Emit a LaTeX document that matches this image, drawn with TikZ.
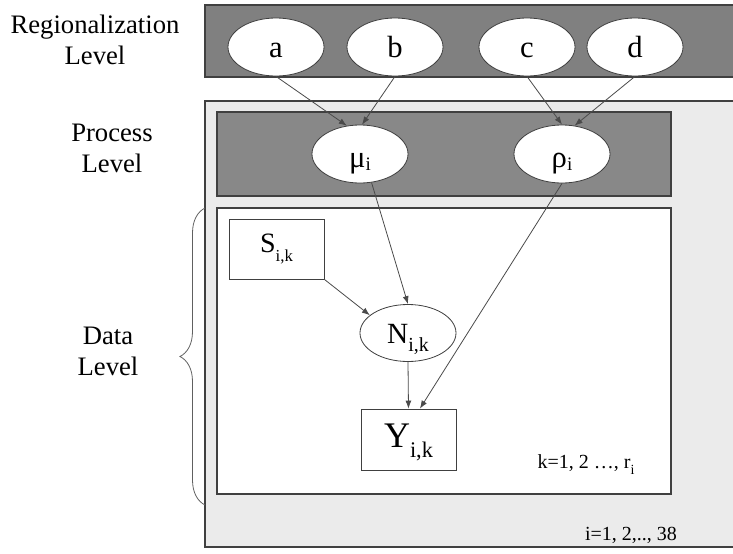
\documentclass[tikz,border=0pt]{standalone}
\usepackage{fontspec}
\setmainfont{Liberation Serif}
\usepackage{xcolor}
\definecolor{cLine}{HTML}{404040}
\definecolor{cArrow}{HTML}{4A4A4A}
\definecolor{cBand}{HTML}{808080}
\definecolor{cProc}{HTML}{888888}
\definecolor{cPlate}{HTML}{EBEBEB}
\definecolor{cBrace}{HTML}{606060}
\usepackage{tikz}
\usetikzlibrary{positioning,arrows.meta,shapes.geometric,calc,%
  decorations.pathreplacing}
\newcommand{\lsub}[2][0.7]{\raisebox{-0.3em}{\scalebox{#1}{#2}}}
\newcommand{\psub}[1]{\raisebox{-0.1em}{\scalebox{0.62}{#1}}}
\tikzset{
  node-var/.style={draw=cLine,line width=0.6pt,ellipse,fill=white,
    minimum width=72pt,minimum height=43.5pt,inner sep=0pt,
    text height=16pt,text depth=1pt,font=\fontsize{23}{26}\selectfont},
  node-par/.style={node-var,text height=20pt,text depth=0.5pt},
  node-obs/.style={draw=cLine,line width=0.6pt,rectangle,fill=white,
    minimum width=71.25pt,minimum height=45pt,inner sep=0pt},
  level-label/.style={align=center,font=\fontsize{20}{23.25}\selectfont},
  index-label/.style={font=\fontsize{15}{18}\selectfont},
  % panels: dark band, light plate, white inner plate
  band/.style={draw=cLine,line width=0.8pt,fill=cBand},
  band-proc/.style={draw=cLine,line width=0.8pt,fill=cProc},
  plate/.style={draw=cLine,line width=0.8pt,fill=cPlate},
  plate-inner/.style={draw=cLine,line width=0.8pt,fill=white},
  arrow/.style={-{Latex[length=6pt,width=4.5pt]},draw=cArrow,line width=0.6pt},
}

\begin{document}
\begin{tikzpicture}[x=0.75pt,y=-0.75pt]
  \useasboundingbox (0,0) rectangle (733,554);

  \draw[band] (205,5) rectangle (740,77);
  \draw[plate] (205,101) rectangle (740,547);
  \draw[band-proc] (217,112) rectangle (671,196);
  \draw[plate-inner] (217,208) rectangle (671,494);

  \node[level-label] (lab-reg) at (95,40) {Regionalization\\Level};
  \node[level-label] (lab-proc) at (112,148) {Process\\Level};
  \node[level-label] (lab-data) at (108,351) {Data\\Level};
  \draw[cBrace,line width=0.6pt,decorate,decoration={brace,amplitude=18.75pt}]
    (205,505) -- (205,208);

  \node[node-var] (a) at (276,47) {a};
  \node[node-var] (b) at (395,47) {b};
  \node[node-var] (c) at (527,47) {c};
  \node[node-var] (d) at (635,47) {d};

  \node[node-par] (mu) at (360,154) {μ\psub{i}};
  \node[node-par] (rho) at (562,154) {ρ\psub{i}};

  \node[node-obs,font=\fontsize{21}{24}\selectfont] (S) at (276.5,249) {S\lsub[0.6]{i,k}};
  \node[node-var,minimum height=42.75pt,text height=15pt,text depth=0pt,
    font=\fontsize{22}{26}\selectfont] (N) at (408,333) {N\lsub[0.68]{i,k}};
  \node[node-obs,minimum height=45.75pt,text height=14pt,text depth=2.75pt,
    font=\fontsize{27}{30}\selectfont] (Y) at (408.5,439.5) {Y\lsub[0.62]{i,k}};

  \node[index-label] (lab-k) at (586,465) {k=1, 2 …, r\lsub{i}};
  \node[index-label] (lab-i) at (631,535) {i=1, 2,.., 38};

  \draw[arrow] (a.south) -- (mu.115);
  \draw[arrow] (b.south) -- (mu.86);
  \draw[arrow] (c.south) -- (rho.north);
  \draw[arrow] (d.south) -- (rho.66);
  \draw[arrow] (mu.-68) -- (N.north);
  \draw[arrow] (S.south east) -- (N.155);
  \draw[arrow] (N.south) -- (Y.north);
  \draw[arrow] (rho.south) -- ([xshift=8.6pt]Y.north);
\end{tikzpicture}
\end{document}
